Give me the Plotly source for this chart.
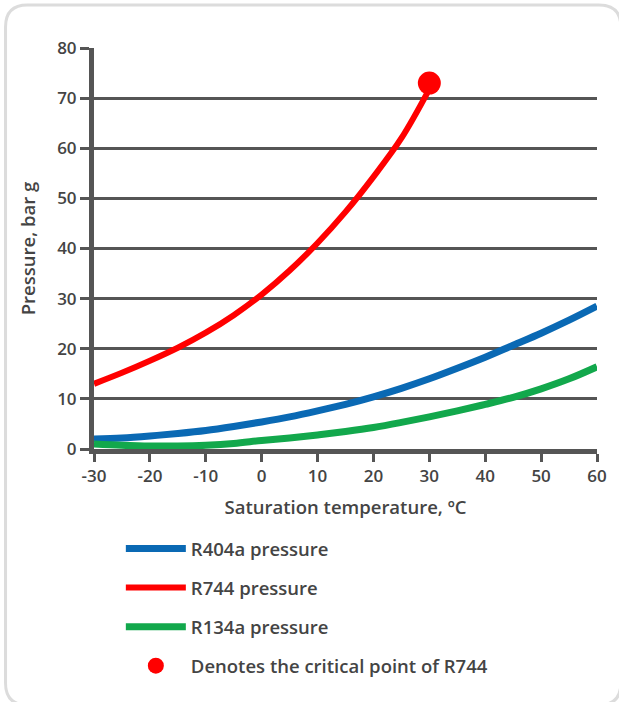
import plotly.graph_objects as go

# ---- data ----
temp_r744 = [-30, -25, -20, -15, -10, -5, 0, 5, 10, 15, 20, 25, 30]
p_r744 = [13.0, 15.2, 17.6, 20.2, 23.2, 26.7, 30.8, 35.6, 41.1, 47.3, 54.3, 62.0, 71.8]

temp_all = [-30, -25, -20, -15, -10, -5, 0, 5, 10, 15, 20, 25, 30, 35, 40, 45, 50, 55, 60]
p_r404a = [2.0, 2.2, 2.6, 3.1, 3.7, 4.5, 5.4, 6.4, 7.6, 8.9, 10.4, 12.1, 14.0, 16.1, 18.3, 20.7, 23.1, 25.7, 28.5]
p_r134a = [1.0, 0.75, 0.6, 0.6, 0.75, 1.1, 1.7, 2.2, 2.8, 3.5, 4.3, 5.3, 6.4, 7.6, 8.9, 10.3, 12.0, 14.0, 16.4]

crit_temp = [30]
crit_p = [73]

x_ticks = [-30, -20, -10, 0, 10, 20, 30, 40, 50, 60]
y_ticks = [0, 10, 20, 30, 40, 50, 60, 70, 80]

BLUE = "#0a69b4"
RED = "#ff0000"
GREEN = "#12a84c"
GREY = "#555555"
TEXT = "#444444"
FONT = "Open Sans"

fig = go.Figure()
fig.add_trace(go.Scatter(x=temp_all, y=p_r404a, mode="lines", name="R404a pressure",
                         line=dict(color=BLUE, width=7, shape="spline"), legendgroup="a"))
fig.add_trace(go.Scatter(x=temp_r744, y=p_r744, mode="lines", name="R744 pressure",
                         line=dict(color=RED, width=6, shape="spline"), legendgroup="b"))
fig.add_trace(go.Scatter(x=temp_all, y=p_r134a, mode="lines", name="R134a pressure",
                         line=dict(color=GREEN, width=7, shape="spline"), legendgroup="c"))
fig.add_trace(go.Scatter(x=crit_temp, y=crit_p, mode="markers", name="Denotes the critical point of R744",
                         marker=dict(color=RED, size=23), legendgroup="d", cliponaxis=False))

# plot area geometry (pixels) for the decorative frame and legend placement
L, R, T, B = 94, 19, 48, 253
W, H = 619, 702
pw, ph = W - L - R, H - T - B


def px(x):
    return (x - L) / pw


def py(y):
    return (H - B - y) / ph


x0, x1, y0, y1, r = 5, 624, 5, 705, 22
frame = (f"M {px(x0)},{py(y0 + r)} Q {px(x0)},{py(y0)} {px(x0 + r)},{py(y0)} "
         f"L {px(x1 - r)},{py(y0)} Q {px(x1)},{py(y0)} {px(x1)},{py(y0 + r)} "
         f"L {px(x1)},{py(y1 - r)} Q {px(x1)},{py(y1)} {px(x1 - r)},{py(y1)} "
         f"L {px(x0 + r)},{py(y1)} Q {px(x0)},{py(y1)} {px(x0)},{py(y1 - r)} Z")

fig.update_layout(
    width=W, height=H,
    margin=dict(l=L, r=R, t=T, b=B),
    paper_bgcolor="white", plot_bgcolor="white",
    font=dict(family=FONT, color=TEXT, size=15, weight=600),
    shapes=[dict(type="path", path=frame, xref="paper", yref="paper",
                 line=dict(color="#dcdcdc", width=3), layer="below")],
    legend=dict(x=px(121), y=py(530), xanchor="left", yanchor="top",
                traceorder="grouped", tracegroupgap=12, itemwidth=60,
                font=dict(family=FONT, size=18.5, color=TEXT, weight=600),
                bgcolor="rgba(0,0,0,0)"),
    showlegend=True,
)

fig.update_xaxes(range=[-30, 60], tickvals=x_ticks, ticktext=[str(v) for v in x_ticks],
                 showgrid=False, zeroline=False, showline=True, linewidth=5, linecolor=GREY,
                 ticks="outside", ticklen=8, tickwidth=3, tickcolor=GREY,
                 tickfont=dict(family=FONT, size=17, color=TEXT, weight=600),
                 title=dict(text="Saturation temperature, ºC", standoff=16,
                            font=dict(family=FONT, size=18.5, color=TEXT, weight=600)))
fig.update_yaxes(range=[0, 80], tickvals=y_ticks, ticktext=[str(v) for v in y_ticks],
                 showgrid=True, gridcolor=GREY, gridwidth=3, zeroline=False,
                 showline=True, linewidth=5, linecolor=GREY,
                 ticks="outside", ticklen=9, tickwidth=3, tickcolor=GREY,
                 tickfont=dict(family=FONT, size=17, color=TEXT, weight=600),
                 title=dict(text="Pressure, bar g", standoff=18,
                            font=dict(family=FONT, size=18.5, color=TEXT, weight=600)))

fig.write_html("out.html", config={"displayModeBar": False},
               post_script="document.body.style.margin='0';")
